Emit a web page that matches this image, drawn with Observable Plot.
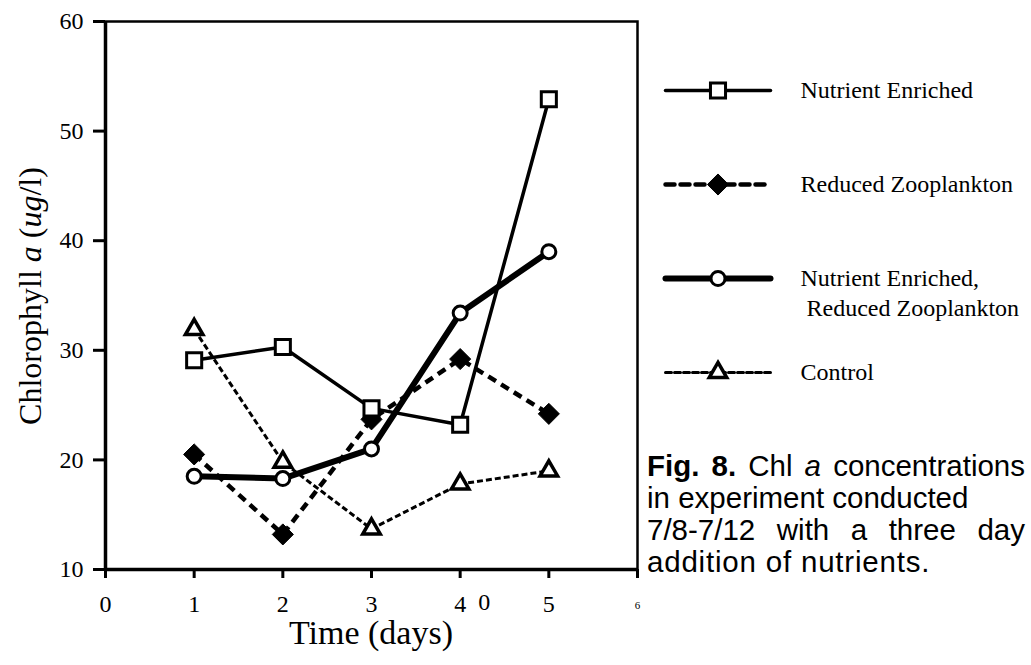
<!DOCTYPE html>
<html><head><meta charset="utf-8">
<script src="https://cdn.jsdelivr.net/npm/d3@7"></script>
<script src="https://cdn.jsdelivr.net/npm/@observablehq/plot@0.6"></script>
<style>
body{margin:0;background:#fff;}
#wrap{position:relative;width:1031px;height:665px;overflow:hidden;background:#fff;}
#wrap svg{position:absolute;}
.ylab{position:absolute;left:30px;top:296px;transform:translate(-50%,-50%) rotate(-90deg);white-space:nowrap;font-family:"Liberation Serif",serif;font-size:32px;color:#000;}
.xlab{position:absolute;left:371px;top:633px;transform:translate(-50%,-50%);white-space:nowrap;font-family:"Liberation Serif",serif;font-size:34px;color:#000;}
.cap{position:absolute;left:647px;top:450px;width:378px;font-family:"Liberation Sans",Arial,sans-serif;font-size:29.5px;line-height:32px;color:#000;}
.cap div{white-space:nowrap;}
.cap .j{text-align:justify;text-align-last:justify;white-space:normal;}
</style></head><body><div id="wrap"></div>
<script>
// ---- data ----
const days = [1, 2, 3, 4, 5];
const seriesNames = ["Nutrient Enriched", "Reduced Zooplankton", "Nutrient Enriched, Reduced Zooplankton", "Control"];
const legendLabels = ["Nutrient Enriched", "Reduced Zooplankton", "Nutrient Enriched,\n\u00a0Reduced Zooplankton", "Control"];
const nutrientEnriched = [29.1, 30.3, 24.7, 23.2, 52.9];
const reducedZooplankton = [20.5, 13.2, 23.7, 29.2, 24.2];
const enrichedReduced = [18.5, 18.3, 21.0, 33.4, 39.0];
const control = [31.9, 19.8, 13.7, 17.8, 19.0];
const xTicks = [0, 1, 2, 3, 4, 5, 6];
const xTickLabels = ["0", "1", "2", "3", "4", "5"];
const xTickSmall = [6];
const xTickStray = [4];
const yTicks = [10, 20, 30, 40, 50, 60];
const xDomain = [0, 6];
const yDomain = [10, 60];

// ---- styles ----
const styles = {
  "Control": {sw: 3, dash: "6,3", symbol: "triangle", r: 6.5, fill: "white", dsw: 3.5},
  "Reduced Zooplankton": {sw: 4.5, dash: "9,6", symbol: "diamond2", r: 9.5, fill: "black", dsw: 1},
  "Nutrient Enriched, Reduced Zooplankton": {sw: 6, dash: null, symbol: "circle", r: 7, fill: "white", dsw: 3},
  "Nutrient Enriched": {sw: 3.5, dash: null, symbol: "square", r: 8.5, fill: "white", dsw: 3}
};
const valuesBySeries = {
  "Nutrient Enriched": nutrientEnriched,
  "Reduced Zooplankton": reducedZooplankton,
  "Nutrient Enriched, Reduced Zooplankton": enrichedReduced,
  "Control": control
};
const drawOrder = ["Control", "Reduced Zooplankton", "Nutrient Enriched, Reduced Zooplankton", "Nutrient Enriched"];
const rows = s => days.map((d, i) => ({day: d, value: valuesBySeries[s][i], series: s}));

const lineMarks = drawOrder.map(s => Plot.line(rows(s), {
  x: "day", y: "value", stroke: "black", strokeWidth: styles[s].sw,
  strokeDasharray: styles[s].dash, strokeLinejoin: "round", strokeLinecap: styles[s].dash ? "butt" : "round"
}));
const dotMarks = drawOrder.map(s => Plot.dot(rows(s), {
  x: "day", y: "value", symbol: () => styles[s].symbol, r: styles[s].r,
  fill: styles[s].fill, stroke: "black", strokeWidth: styles[s].dsw
}));

const chart = Plot.plot({
  width: 1031, height: 665,
  marginLeft: 105, marginRight: 394, marginTop: 21, marginBottom: 96,
  x: {domain: xDomain},
  y: {domain: yDomain},
  style: {fontFamily: "'Liberation Serif', serif", fontSize: "24px", background: "transparent", color: "black"},
  marks: [
    Plot.frame({stroke: "black", strokeWidth: 2.5}),
    Plot.ruleX([xDomain[0]], {stroke: "black", strokeWidth: 3.5}),
    Plot.ruleY([yDomain[0]], {stroke: "black", strokeWidth: 3.5}),
    Plot.axisX({ticks: xTicks, tickSize: 9, strokeWidth: 3, label: null, tickFormat: () => ""}),
    Plot.text(xTickLabels, {x: d => +d, text: d => d, frameAnchor: "bottom", dy: 42, fontSize: 24, fill: "black"}),
    Plot.text(xTickSmall, {x: d => d, text: d => String(d), frameAnchor: "bottom", dy: 39, fontSize: 11, fill: "black"}),
    Plot.text(xTickStray, {x: d => d, text: () => "0", frameAnchor: "bottom", dy: 40, dx: 24, fontSize: 24, fill: "black"}),
    Plot.axisY({ticks: yTicks, tickSize: 12, tickPadding: 10, strokeWidth: 3, fontSize: 24, label: null, tickFormat: d => String(d)}),
    ...lineMarks,
    ...dotMarks
  ]
});

// ---- legend ----
const legendMarks = [];
seriesNames.forEach(s => {
  const st = styles[s];
  legendMarks.push(Plot.line([{t: 0, s}, {t: 1, s}], {x: "t", y: "s", stroke: "black", strokeWidth: st.sw, strokeDasharray: st.dash}));
});
seriesNames.forEach(s => {
  const st = styles[s];
  legendMarks.push(Plot.dot([{t: 0.5, s}], {x: "t", y: "s", symbol: () => st.symbol, r: st.r, fill: st.fill, stroke: "black", strokeWidth: st.dsw}));
});
legendMarks.push(Plot.text(seriesNames, {
  x: () => 1, y: d => d, text: (d, i) => legendLabels[i], dx: 30, textAnchor: "start",
  lineAnchor: "top", dy: -14, lineHeight: 1.25, fontSize: 24, fill: "black"
}));
const legend = Plot.plot({
  width: 381, height: 360, margin: 0,
  x: {domain: [0, 1], range: [15, 120], axis: null},
  y: {type: "point", domain: seriesNames, range: [50, 332], padding: 0, axis: null},
  style: {fontFamily: "'Liberation Serif', serif", background: "transparent", color: "black", overflow: "visible"},
  marks: legendMarks
});

const wrap = document.getElementById("wrap");
chart.style.left = "0px"; chart.style.top = "0px";
wrap.appendChild(chart);
legend.style.left = "650px"; legend.style.top = "40px";
wrap.appendChild(legend);

const yl = document.createElement("div");
yl.className = "ylab";
yl.innerHTML = "Chlorophyll <i>a</i> (<i>ug</i>/l)";
wrap.appendChild(yl);
const xl = document.createElement("div");
xl.className = "xlab";
xl.textContent = "Time (days)";
wrap.appendChild(xl);
const cap = document.createElement("div");
cap.className = "cap";
cap.innerHTML = "<div class='j'><b>Fig. 8.</b> Chl <i>a</i> concentrations</div><div>in experiment conducted</div><div class='j'>7/8-7/12 with a three day</div><div style='letter-spacing:0.8px'>addition of nutrients.</div>";
wrap.appendChild(cap);
</script></body></html>
